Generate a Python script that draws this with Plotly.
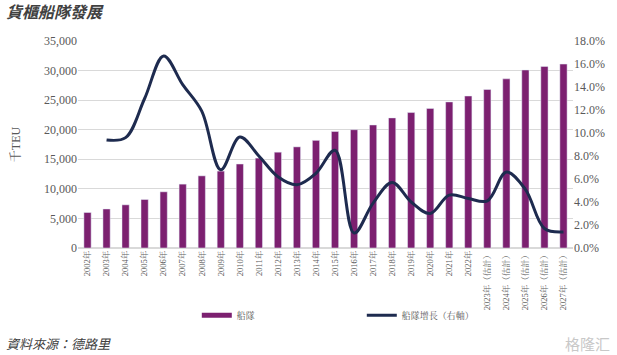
import plotly.graph_objects as go

years = [f"{y}年" for y in range(2002, 2023)] + [f"{y}年（估計）" for y in range(2023, 2028)]
fleet = [6000, 6600, 7300, 8200, 9500, 10800, 12200, 13000, 14200, 15200, 16200, 17100,
         18200, 19700, 20000, 20800, 22000, 22900, 23600, 24700, 25700, 26800, 28600,
         30100, 30700, 31100]
growth_years = years[1:]
growth = [9.4, 9.6, 13.0, 16.7, 14.2, 11.9, 6.8, 9.65, 8.0, 6.2, 5.5, 6.5, 8.5, 1.3,
          3.9, 5.7, 4.0, 3.0, 4.6, 4.3, 4.1, 6.6, 5.1, 1.7, 1.4]

PURPLE = "#7C2070"
NAVY = "#1E2B4F"
GRAY = "#595959"
SERIF = "Liberation Serif, Noto Serif CJK TC, Noto Sans CJK TC, serif"

fig = go.Figure()
fig.add_trace(go.Bar(x=years, y=fleet, name="船隊", marker_color=PURPLE,
                     showlegend=False, yaxis="y"))
fig.add_trace(go.Scatter(x=[None], y=[None], mode="lines", name="船隊",
                         line=dict(color=PURPLE, width=5), yaxis="y"))
fig.add_trace(go.Scatter(x=growth_years, y=growth, mode="lines", name="船隊增長（右軸）",
                         line=dict(color=NAVY, width=3, shape="spline", smoothing=1.0),
                         yaxis="y2"))

fig.update_layout(
    width=617, height=355,
    margin=dict(l=78, r=44, t=41, b=107),
    paper_bgcolor="white", plot_bgcolor="white",
    bargap=0.62,
    font=dict(family=SERIF, color=GRAY, size=12),
    xaxis=dict(type="category", tickangle=-90, tickfont=dict(size=8.5, color=GRAY),
               showgrid=False, showline=False, ticks="", automargin=False),
    yaxis=dict(range=[0, 35000], dtick=5000, tickformat=",", showgrid=True,
               gridcolor="#D9D9D9", gridwidth=1, zeroline=True, zerolinecolor="#D9D9D9",
               tickfont=dict(size=12, color=GRAY), automargin=False,
               title=dict(text="千TEU", font=dict(size=12, color=GRAY), standoff=20)),
    yaxis2=dict(range=[0, 18], dtick=2, tickformat=".1f", ticksuffix="%",
                overlaying="y", side="right", showgrid=False, zeroline=False,
                tickfont=dict(size=12, color=GRAY), automargin=False),
    legend=dict(orientation="h", x=0.24, y=-0.325, xanchor="left", yanchor="middle",
                font=dict(size=9, color=GRAY), entrywidth=120, entrywidthmode="pixels",
                bgcolor="rgba(0,0,0,0)"),
    annotations=[
        dict(text="<b><i>貨櫃船隊發展</i></b>", xref="paper", yref="paper",
             x=-0.149, y=1.143, xanchor="left", yanchor="middle", showarrow=False,
             font=dict(size=16, color="#404040", family="Noto Sans CJK TC")),
        dict(text="<i>資料來源：德路里</i>", xref="paper", yref="paper",
             x=-0.149, y=-0.459, xanchor="left", yanchor="middle", showarrow=False,
             font=dict(size=13, color="#404040", family="Noto Sans CJK TC")),
        dict(text="格隆汇", xref="paper", yref="paper",
             x=1.079, y=-0.459, xanchor="right", yanchor="middle", showarrow=False,
             font=dict(size=15, color="#C8C8C8", family="Noto Sans CJK SC")),
    ],
)

fig.write_html("out.html", config={"displayModeBar": False},
               post_script="document.body.style.margin='0px';")
